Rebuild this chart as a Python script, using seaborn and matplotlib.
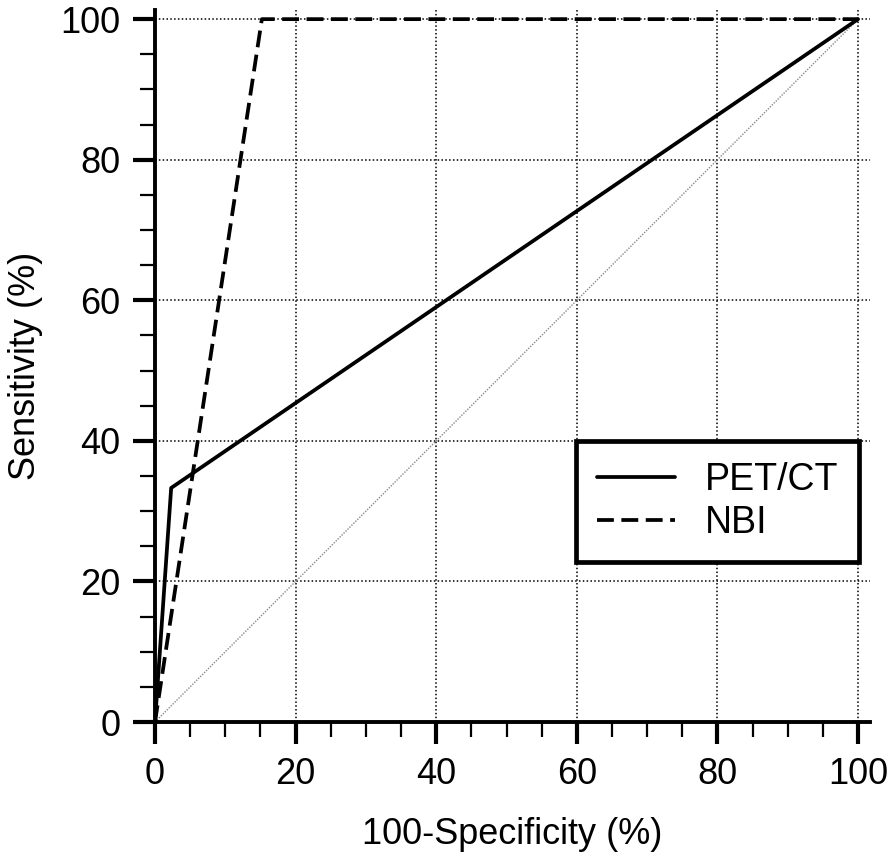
import matplotlib
matplotlib.use("Agg")
import matplotlib.pyplot as plt
from matplotlib.ticker import MultipleLocator
import pandas as pd
import seaborn as sns

# ROC points
pet_x = [0, 2.3, 100]
pet_y = [0, 33.3, 100]
nbi_x = [0, 15.2, 100]
nbi_y = [0, 100, 100]
ref_x = [0, 100]
ref_y = [0, 100]
labels = ["PET/CT", "NBI"]

df = pd.concat([
    pd.DataFrame({"x": pet_x, "y": pet_y, "test": labels[0]}),
    pd.DataFrame({"x": nbi_x, "y": nbi_y, "test": labels[1]}),
], ignore_index=True)

sns.set_style("white")
plt.rcParams['font.family'] = ['Liberation Sans', 'DejaVu Sans']
plt.rcParams['text.color'] = 'black'
plt.rcParams['axes.labelcolor'] = 'black'
plt.rcParams['xtick.color'] = 'black'
plt.rcParams['ytick.color'] = 'black'

fig = plt.figure(figsize=(8.94, 8.67), dpi=100)
ax = fig.add_axes([155 / 894, 145 / 867, 715 / 894, 712 / 867])

# chance diagonal
ax.plot(ref_x, ref_y, color="#888888", lw=1.0, ls=(0, (1, 1)), zorder=2)

sns.lineplot(data=df, x="x", y="y", style="test", color="black",
             dashes={"PET/CT": "", "NBI": (4.5, 2)}, lw=2.7,
             sort=False, estimator=None, ax=ax, zorder=3)

ax.set_xlim(0, 101.7)
ax.set_ylim(0, 101.3)
ax.xaxis.set_major_locator(MultipleLocator(20))
ax.yaxis.set_major_locator(MultipleLocator(20))
ax.xaxis.set_minor_locator(MultipleLocator(5))
ax.yaxis.set_minor_locator(MultipleLocator(5))

ax.grid(True, which="major", color="black", ls=(0, (1, 1.5)), lw=1.1)
ax.set_axisbelow(True)

for s in ["top", "right"]:
    ax.spines[s].set_visible(False)
for s in ["left", "bottom"]:
    ax.spines[s].set_linewidth(2.8)
    ax.spines[s].set_color("black")

ax.tick_params(which="major", direction="out", length=16, width=3,
               labelsize=26, pad=9, color="black", labelcolor="black",
               bottom=True, left=True)
ax.tick_params(which="minor", direction="out", length=11, width=1.6,
               color="black", bottom=True, left=True)

ax.set_xlabel("100-Specificity (%)", fontsize=26, labelpad=18, color="black")
ax.set_ylabel("Sensitivity (%)", fontsize=26, labelpad=12, color="black")

handles, _ = ax.get_legend_handles_labels()
leg = ax.legend(handles, labels, loc="center",
                bbox_to_anchor=(0.58, 0.223, 0.414, 0.173),
                fontsize=27, frameon=True, fancybox=False,
                handlelength=2.1, handletextpad=0.8, borderpad=0.55,
                labelspacing=0.2, borderaxespad=0)
leg.get_frame().set_edgecolor("black")
leg.get_frame().set_linewidth(3.4)
leg.get_frame().set_alpha(1)

fig.savefig("out.png", dpi=100)
